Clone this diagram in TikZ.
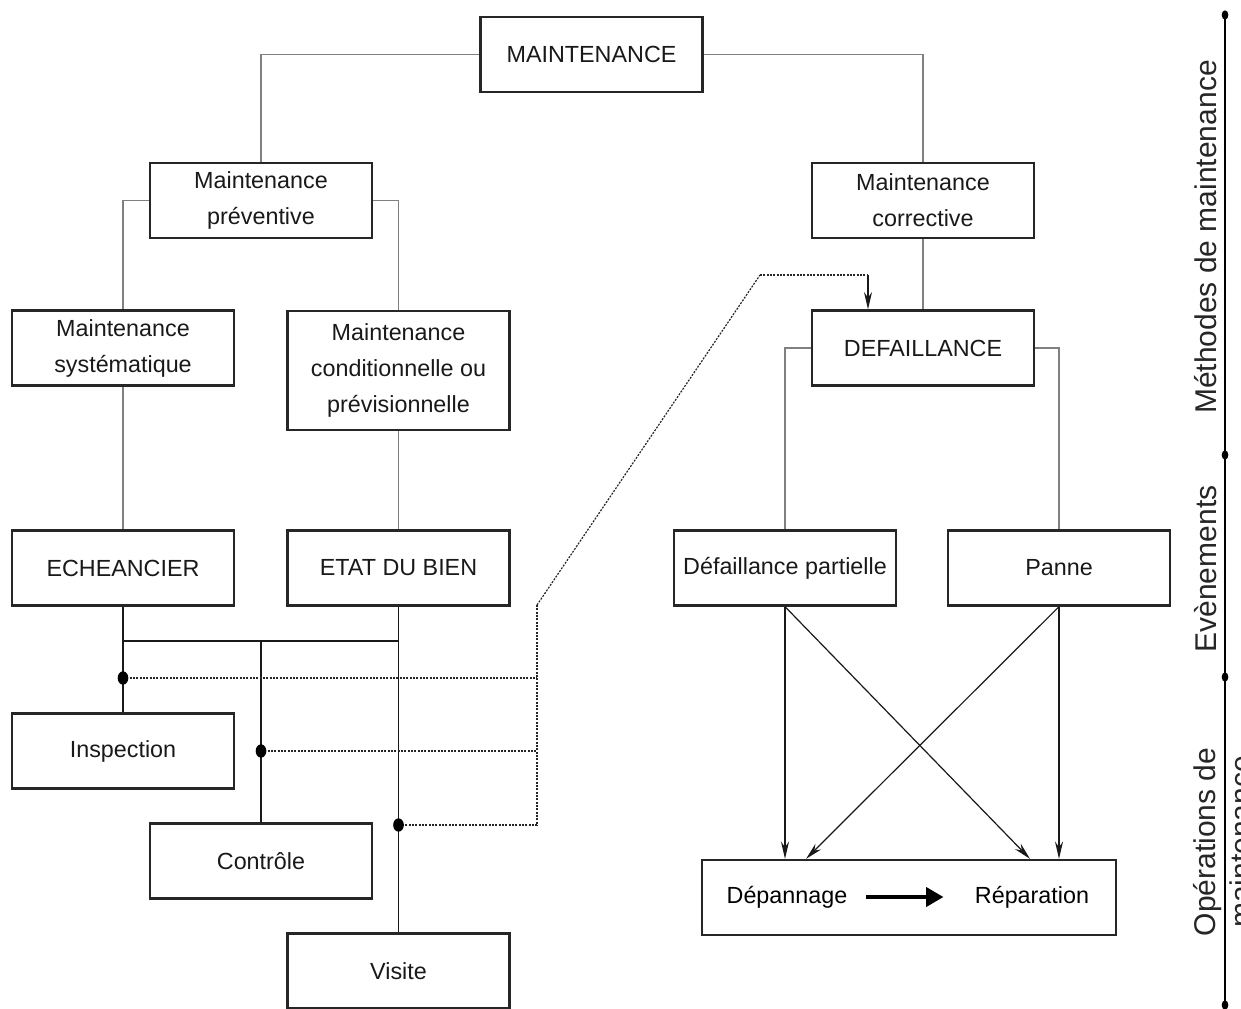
\documentclass[tikz,border=0pt]{standalone}
\usepackage{fontspec}
\setmainfont{Liberation Sans}
\usetikzlibrary{arrows.meta,shapes.geometric}
\begin{document}
\begin{tikzpicture}[x=0.75pt,y=-0.75pt,
  font=\fontsize{17.5}{27}\selectfont,
  box/.style={draw=black!85,line width=1.7pt,minimum width=166.5pt,minimum height=56.25pt,
    align=center,inner sep=0pt,text=black!90},
  tall/.style={box,minimum height=89.25pt},
  wide/.style={box,minimum width=310.5pt},
  tree/.style={draw=black!50,line width=0.9pt},
  bus/.style={draw=black!90,line width=1.2pt},
  dots/.style={draw=black!85,line width=1.2pt,dash pattern=on 1.5pt off 1pt},
  arr/.style={draw=black!90,line width=0.9pt,-{Stealth[length=13pt,width=6pt]}},
  joint/.style={ellipse,fill=black,inner sep=0pt,minimum width=8pt,minimum height=10pt},
  tick/.style={ellipse,fill=black,inner sep=0pt,minimum width=5pt,minimum height=7pt},
  axislabel/.style={rotate=90,font=\fontsize{22.5}{20}\selectfont,align=center,text=black!85}]

\useasboundingbox (0,0) rectangle (1241,1009);

% ---- boxes ----
\node[box] (maint) at (591.5,54.5) {MAINTENANCE};
\node[box] (prev)  at (261,200.5) {Maintenance\\préventive};
\node[box] (corr)  at (923,200.5) {Maintenance\\corrective};
\node[box] (syst)  at (123,348) {Maintenance\\systématique};
\node[tall] (cond) at (398.5,370.5) {Maintenance\\conditionnelle ou\\prévisionnelle};
\node[box] (def)   at (923,348) {DEFAILLANCE};
\node[box] (ech)   at (123,568) {ECHEANCIER};
\node[box] (etat)  at (398.5,568) {ETAT DU BIEN};
\node[box] (part)  at (785,568) {Défaillance partielle};
\node[box] (panne) at (1059,568) {Panne};
\node[box] (insp)  at (123,751) {Inspection};
\node[box] (ctrl)  at (261,861) {Contrôle};
\node[box] (vis)   at (398.5,971) {Visite};
\node[wide] (ops)  at (909,897.5) {};
\node (dep) at (787,897) {Dépannage};
\node (rep) at (1032,897) {Réparation};

% ---- tree of methods ----
\draw[tree] (maint.west) -| (prev.north);
\draw[tree] (maint.east) -| (corr.north);
\draw[tree] (prev.west) -| (syst.north);
\draw[tree] (prev.east) -| (cond.north);
\draw[tree] (syst.south) -- (ech.north);
\draw[tree] (cond.south) -- (etat.north);
\draw[tree] (corr.south) -- (def.north);
\draw[tree] (def.west) -| (part.north);
\draw[tree] (def.east) -| (panne.north);

% ---- preventive operations ----
\coordinate (busL) at (123,641);
\draw[bus] (ech.south) -- (insp.north);
\draw[bus] (etat.south) -- (vis.north);
\draw[bus] (busL) -- (busL -| etat.south);
\draw[bus] (busL -| ctrl.north) -- (ctrl.north);

\coordinate (j1) at (123,678);
\coordinate (j2) at (261,751);
\coordinate (j3) at (398.5,825);
\coordinate (kink) at (537,605);
\coordinate (up1) at (760,275);
\coordinate (up2) at (868,275);

\draw[dots] (j1) -- (j1 -| kink);
\draw[dots] (j2) -- (j2 -| kink);
\draw[dots] (j3) -| (kink);
\draw[dots,line width=0.9pt] (kink) -- (up1);
\draw[dots] (up1) -- (up2);
\draw[draw=black!90,line width=1pt,-{Stealth[length=13pt,width=6pt]}] (up2) -- (up2 |- def.north);

\node[joint] at (j1) {};
\node[joint] at (j2) {};
\node[joint] at (j3) {};

% ---- corrective operations ----
\coordinate (inR) at (1030,0);
\coordinate (inD) at (806,0);
\draw[arr] (part.south) -- (part.south |- ops.north);
\draw[arr] (part.south) -- (inR |- ops.north);
\draw[arr] (panne.south) -- (inD |- ops.north);
\draw[arr] (panne.south) -- (panne.south |- ops.north);
\draw[line width=3.5pt,-{Triangle[length=13pt,width=14pt]}] (dep.east) ++(14,0) -- ([xshift=-20pt]rep.west);

% ---- axis of levels ----
\coordinate (a0) at (1225,15);
\coordinate (a1) at (1225,455);
\coordinate (a2) at (1225,677);
\coordinate (a3) at (1225,1005);
\draw[line width=1.2pt] (a0) -- (a3);
\foreach \p in {a0,a1,a2,a3} \node[tick] at (\p) {};
\node[axislabel] (lm) at (1206,237) {Méthodes de maintenance};
\node[axislabel] (le) at (1206,569) {Evènements};
\node[axislabel,font=\fontsize{22.5}{27}\selectfont] (lo) at (1223,842) {Opérations de\\maintenance};
\end{tikzpicture}
\end{document}
